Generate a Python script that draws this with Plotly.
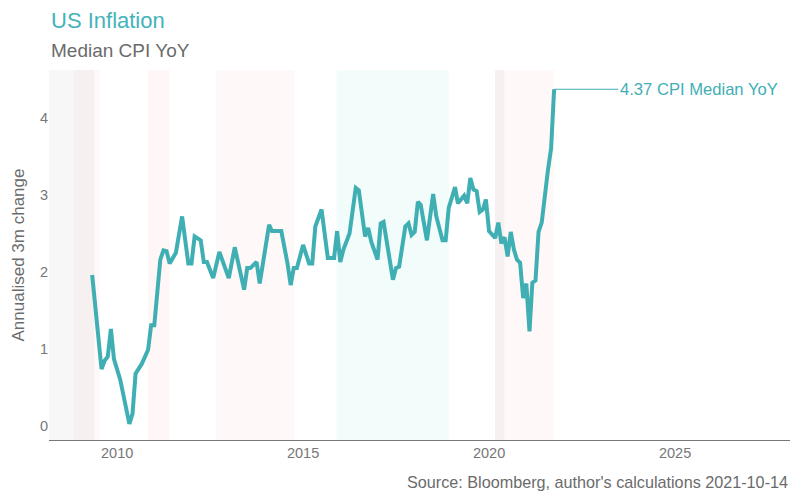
import plotly.graph_objects as go
import pandas as pd

# ---- data ----
start_month = "2009-05-01"
month_idx = [0, 3, 4, 5, 6, 7, 9, 11, 12, 13, 14, 16, 18, 19, 20, 22, 23, 24, 25, 27,
             29, 31, 32, 33, 35, 36, 37, 39, 41, 44, 46, 49, 50, 51, 53, 54, 57, 58, 61, 63,
             64, 65, 66, 68, 70, 71, 72, 74, 76, 78, 79, 80, 81, 83, 85, 86, 88, 89, 90, 92,
             93, 94, 95, 97, 98, 99, 101, 102, 103, 104, 105, 106, 108, 110, 111, 113, 114, 115, 117, 118,
             120, 121, 122, 123, 124, 125, 126, 127, 128, 129, 130, 131, 132, 133, 134, 135, 136, 137, 138, 139,
             140, 141, 142, 143, 144, 145, 146, 147, 148, 149]
cpi_median = [1.96, 0.74, 0.85, 0.90, 1.26, 0.87, 0.60, 0.25, 0.03, 0.16, 0.68, 0.81, 0.99, 1.31, 1.31, 2.16, 2.28, 2.27, 2.11, 2.25,
              2.72, 2.11, 2.11, 2.46, 2.41, 2.13, 2.13, 1.92, 2.26, 1.92, 2.32, 1.77, 2.05, 2.05, 2.13, 1.85, 2.61, 2.53, 2.53, 2.11,
              1.83, 2.05, 2.05, 2.35, 2.11, 2.11, 2.59, 2.81, 2.18, 2.18, 2.53, 2.13, 2.29, 2.50, 3.09, 3.06, 2.46, 2.57, 2.39, 2.16,
              2.63, 2.65, 2.41, 1.90, 2.05, 2.07, 2.59, 2.63, 2.48, 2.52, 2.91, 2.87, 2.41, 3.01, 2.72, 2.41, 2.41, 2.83, 3.10, 2.89,
              2.99, 2.89, 3.22, 3.07, 3.05, 2.78, 2.81, 2.94, 2.53, 2.48, 2.44, 2.64, 2.37, 2.45, 2.20, 2.52, 2.29, 2.16, 2.12, 1.66,
              1.85, 1.23, 1.86, 1.89, 2.52, 2.64, 3.00, 3.32, 3.60, 4.37]

regime_start = ["2008-03-03", "2008-11-01", "2009-05-25", "2010-10-30", "2012-08-28", "2015-11-25", "2020-02-28", "2020-06-02"]
regime_end   = ["2008-11-01", "2009-05-25", "2009-07-15", "2011-06-02", "2014-10-05", "2018-12-01", "2020-06-02", "2021-10-01"]
regime_color = ["#f7f7f7", "#f6f0f0", "#fff8f8", "#fff7f7", "#fff8f8", "#f2fcfb", "#f6f0f0", "#fff8f8"]

x_range = ["2008-03-03", "2028-02-03"]
y_range = [-0.18, 4.62]
y_ticks = [0, 1, 2, 3, 4]
x_ticks = ["2010-01-01", "2015-01-01", "2020-01-01", "2025-01-01"]
x_tick_labels = ["2010", "2015", "2020", "2025"]

title_text = "US Inflation"
subtitle_text = "Median CPI YoY"
y_title = "Annualised 3m change"
source_text = "Source: Bloomberg, author's calculations 2021-10-14"
series_name = "CPI Median YoY"

# ---- build ----
dates = pd.date_range(start_month, periods=150, freq="MS")
x = [dates[i] for i in month_idx]

TEAL = "#3fafb4"
GREY = "#777777"
FONT = "Liberation Sans, Arial, sans-serif"

fig = go.Figure()
fig.add_trace(go.Scatter(x=x, y=cpi_median, mode="lines",
                         line=dict(color=TEAL, width=4), hoverinfo="skip",
                         showlegend=False))

for s, e, c in zip(regime_start, regime_end, regime_color):
    fig.add_vrect(x0=s, x1=e, fillcolor=c, line_width=0, layer="below", opacity=1)

fig.add_annotation(x=x[-1], y=cpi_median[-1], xref="x", yref="y",
                   text=f"{cpi_median[-1]:.2f} {series_name}",
                   showarrow=True, arrowhead=0, arrowwidth=1, arrowcolor=TEAL,
                   ax=64, ay=0, xanchor="left", yanchor="middle",
                   font=dict(family=FONT, size=16.6, color=TEAL))

fig.add_annotation(x=0, y=1.135, xref="paper", yref="paper", text=title_text,
                   showarrow=False, xanchor="left", yanchor="middle",
                   font=dict(family=FONT, size=22, color="#45b3bb"))
fig.add_annotation(x=0, y=1.054, xref="paper", yref="paper", text=subtitle_text,
                   showarrow=False, xanchor="left", yanchor="middle",
                   font=dict(family=FONT, size=19, color="#6b6b6b"))
fig.add_annotation(x=1, y=-0.1135, xref="paper", yref="paper", text=source_text,
                   showarrow=False, xanchor="right", yanchor="middle",
                   font=dict(family=FONT, size=16.2, color="#6b6b6b"))

fig.update_layout(
    width=800, height=500,
    margin=dict(l=49, r=10, t=70, b=60, autoexpand=False),
    paper_bgcolor="white", plot_bgcolor="white",
    font=dict(family=FONT, color=GREY),
    xaxis=dict(range=x_range, tickvals=x_ticks, ticktext=x_tick_labels,
               showgrid=False, zeroline=False, showline=True, linecolor="#777777",
               linewidth=1, ticks="", tickfont=dict(size=14.5, color="#777777")),
    yaxis=dict(range=y_range, tickvals=y_ticks, showgrid=False, zeroline=False,
               showline=False, ticks="", tickfont=dict(size=14.5, color="#777777"),
               title=dict(text=y_title, font=dict(size=17, color="#6b6b6b"), standoff=10),
               automargin=False),
)

fig.write_html("out.html", config={"displayModeBar": False},
               post_script="document.body.style.margin='0px';")
